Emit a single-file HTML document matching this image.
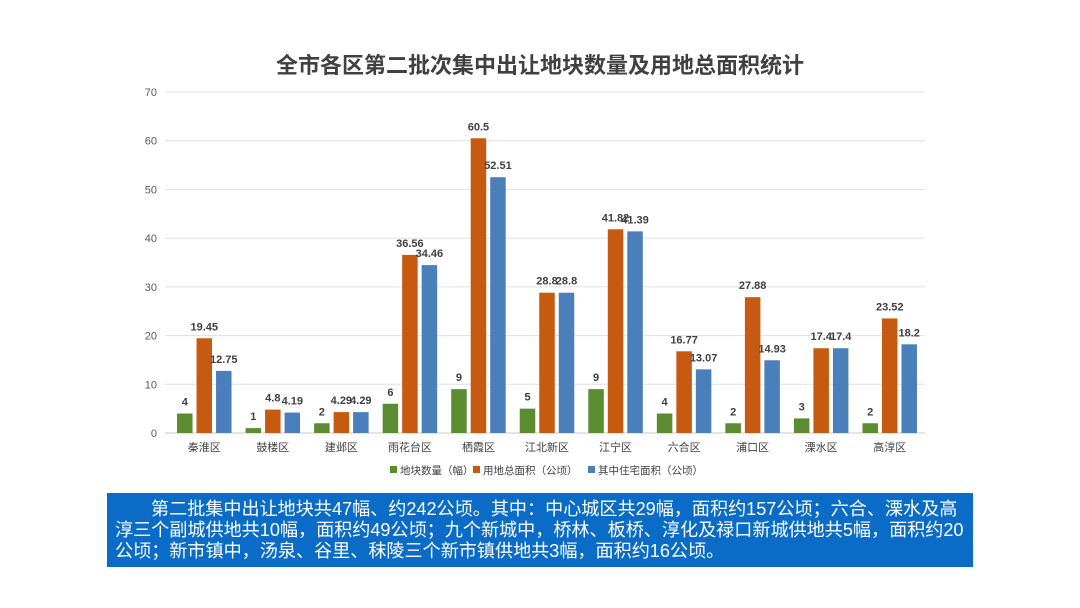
<!DOCTYPE html>
<html><head><meta charset="utf-8"><style>
body{margin:0;width:1080px;height:608px;background:#fff;overflow:hidden;font-family:"Liberation Sans","Noto Sans CJK SC",sans-serif;}
#title{position:absolute;left:0;width:1080px;top:48px;text-align:center;font-size:22px;font-weight:bold;color:#404040;}
#note{position:absolute;left:107px;top:493px;width:866px;height:74px;background:#0b6cc7;color:#fff;font-size:18.1px;line-height:21px;box-sizing:border-box;padding:6px 0 0 8px;white-space:nowrap;overflow:hidden;}
</style></head><body>
<div id="title">全市各区第二批次集中出让地块数量及用地总面积统计</div>
<svg id="chart" width="1080" height="490" style="position:absolute;left:0;top:0"></svg>
<div id="note"><span style="display:inline-block;width:36px"></span>第二批集中出让地块共47幅、约242公顷。其中：中心城区共29幅，面积约157公顷；六合、溧水及高<br>淳三个副城供地共10幅，面积约49公顷；九个新城中，桥林、板桥、淳化及禄口新城供地共5幅，面积约20<br>公顷；新市镇中，汤泉、谷里、秣陵三个新市镇供地共3幅，面积约16公顷。</div>
<script>
const categories=["秦淮区","鼓楼区","建邺区","雨花台区","栖霞区","江北新区","江宁区","六合区","浦口区","溧水区","高淳区"];
const countVals=[4,1,2,6,9,5,9,4,2,3,2];
const areaVals=[19.45,4.8,4.29,36.56,60.5,28.8,41.82,16.77,27.88,17.4,23.52];
const resVals=[12.75,4.19,4.29,34.46,52.51,28.8,41.39,13.07,14.93,17.4,18.2];
const yTicks=[0,10,20,30,40,50,60,70];
const seriesNames=["地块数量（幅）","用地总面积（公顷）","其中住宅面积（公顷）"];
const colors=["#5b8c32","#c65a11","#4a7fbb"];
const svg=document.getElementById('chart');const NS="http://www.w3.org/2000/svg";
const GX0=165,GX1=925,X0=170,X1=924,Y0=433,Y70=92;
const y=v=>Y0-(v/70)*(Y0-Y70);
const gw=(X1-X0)/categories.length;
function mk(t,a,txt){const e=document.createElementNS(NS,t);for(const k in a)e.setAttribute(k,a[k]);if(txt!=null)e.textContent=txt;svg.appendChild(e);return e;}
yTicks.forEach(t=>{
 const l=mk('line',{x1:GX0,x2:GX1,y1:y(t),y2:y(t),stroke:t?'#e0e0e0':'#c8c8c8','stroke-width':1});
 
 
 const tx=mk('text',{x:157,y:y(t)+4,'text-anchor':'end','font-size':11,fill:'#595959'},t);
 
 
});
const series=[countVals,areaVals,resVals];
const bw=15.5,gap=4;
categories.forEach((c,i)=>{
 const cx=X0+gw*(i+0.5);
 series.forEach((s,j)=>{
  const bx=cx+(j-1)*(bw+gap)-bw/2;
  const r=mk('rect',{x:bx,y:y(s[i]),width:bw,height:Y0-y(s[i]),fill:colors[j]});
  
  
  const t=mk('text',{x:bx+bw/2,y:y(s[i])-8,'text-anchor':'middle','font-size':11,'font-weight':'bold',fill:'#404040'},s[i]);
  
  
 });
 const lb=mk('text',{x:cx,y:451,'text-anchor':'middle','font-size':11,fill:'#404040'},c);
 
 
});
const lx=[390,473,588];
seriesNames.forEach((n,j)=>{
 const r=mk('rect',{x:lx[j],y:466,width:7,height:7,fill:colors[j]});
 
 
 const t=mk('text',{x:lx[j]+10,y:474,'font-size':10.5,fill:'#404040'},n);
 
 
});
</script>
</body></html>
